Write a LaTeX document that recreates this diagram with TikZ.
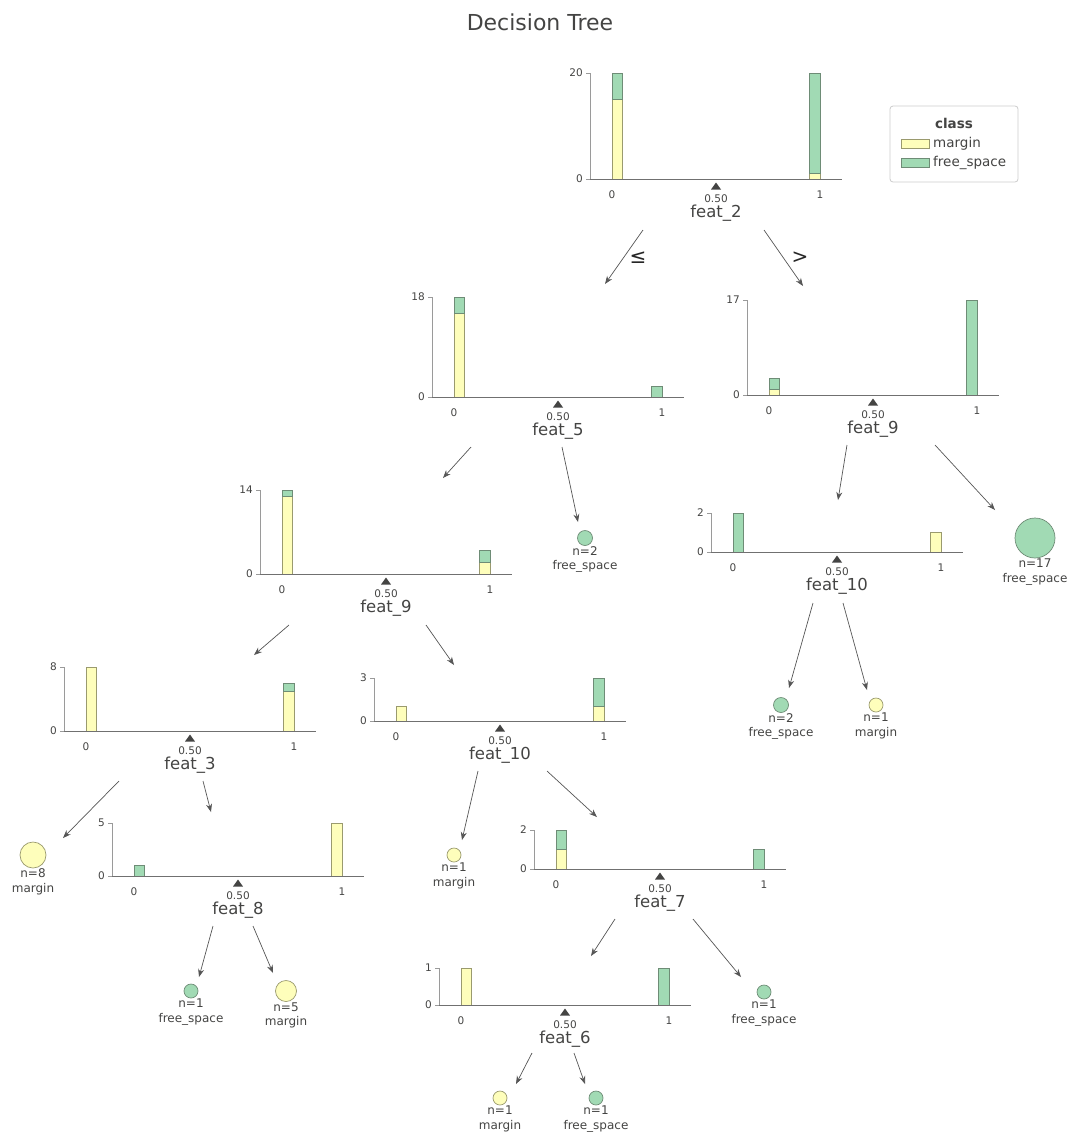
\documentclass[tikz,border=0pt]{standalone}
\usepackage{fontspec}
\setmainfont{DejaVu Sans}
\usepackage{tikz}
\usetikzlibrary{arrows.meta,positioning,calc}
\definecolor{cmarg}{HTML}{FEFEBB}
\definecolor{cfree}{HTML}{A1DAB4}
\definecolor{bmarg}{HTML}{9A9A6E}
\definecolor{bfree}{HTML}{6E8C76}
\definecolor{txtgray}{HTML}{444443}
\definecolor{axgray}{HTML}{9A9A9A}
\definecolor{axdark}{HTML}{707070}
\definecolor{arrgray}{HTML}{555555}
\definecolor{leggray}{HTML}{CCCCCC}
% split node: #1 name, #2 origin (tick 0 on the baseline), #3 axis height,
% #4 top count, #5 feature, #6 bar segments bin/from/to/style
\newcommand{\splitnode}[6]{%
  \begin{scope}[shift={#2}]
    \pgfmathsetmacro{\barunit}{#3/#4}
    \foreach \bin/\lo/\hi/\cls in {#6}
      \draw[\cls] ({\bin*197.6},{-\lo*\barunit}) rectangle ({\bin*197.6+10.4},{-\hi*\barunit});
    \draw[spine] (-22,0) -- (-22,-#3) (-26,0) -- (-22,0) (-26,-#3) -- (-22,-#3);
    \draw[base] (-22,0) -- (230,0);
    \node[tck, anchor=east] at (-29,0) {0};
    \node[tck, anchor=east] at (-29,-#3) {#4};
    \node[tck, anchor=base] at (0,19) {0};
    \node[tck, anchor=base] at (208,19) {1};
    \fill[txtgray] (104,3.5) -- (109,10.5) -- (99,10.5) -- cycle;
    \node[tck, anchor=base] at (104,23) {0.50};
    \node[featlbl, anchor=base] (#1) at (104,38) {#5};
  \end{scope}}
% leaf: #1 name, #2 centre, #3 diameter, #4 style, #5 count, #6 class
\newcommand{\leafnode}[6]{%
  \node[leaf, #4, minimum size=#3] (#1) at #2 {};
  \node[leaftxt, anchor=north] (#1-txt) at ([yshift=-0.5pt]#1.south) {n=#5\\#6};}
\tikzset{
  spine/.style={draw=axgray, line width=0.8pt},
  base/.style={draw=axdark, line width=0.9pt},
  tck/.style={font=\fontsize{10.5}{12}\selectfont, text=txtgray, inner sep=0pt},
  featlbl/.style={font=\fontsize{16.5}{18}\selectfont, text=txtgray, inner sep=0pt},
  marg/.style={fill=cmarg, draw=bmarg, line width=0.7pt},
  free/.style={fill=cfree, draw=bfree, line width=0.7pt},
  leaf/.style={circle, inner sep=0pt, line width=0.8pt},
  leaftxt/.style={font=\fontsize{12}{14.5}\selectfont, text=txtgray, inner sep=0pt, align=center},
  edge/.style={-{Stealth[length=8pt,width=6pt]}, draw=arrgray, line width=0.7pt},
  cmp/.style={font=\fontsize{20}{22}\selectfont, text=black!85, inner sep=0pt},
  ttl/.style={font=\fontsize{22}{24}\selectfont, text=txtgray, inner sep=0pt},
  legtxt/.style={font=\fontsize{13.5}{15}\selectfont, text=txtgray, inner sep=0pt},
  swatch/.style={minimum width=28pt, minimum height=9pt, inner sep=0pt},
}

\begin{document}
\begin{tikzpicture}[x=1pt,y=-1pt]
\useasboundingbox (0,0) rectangle (1080,1141);
\node[ttl] (title) at (540,22) {Decision Tree};

\splitnode{f2}{(612,179)}{106}{20}{feat\_2}{0/0/15/marg,0/15/20/free,1/0/1/marg,1/1/20/free}
\splitnode{f5}{(454,397)}{100}{18}{feat\_5}{0/0/15/marg,0/15/18/free,1/0/2/free}
\splitnode{f9r}{(769,395)}{95}{17}{feat\_9}{0/0/1/marg,0/1/3/free,1/0/17/free}
\splitnode{f9l}{(282,574)}{84}{14}{feat\_9}{0/0/13/marg,0/13/14/free,1/0/2/marg,1/2/4/free}
\splitnode{f10r}{(733,552)}{39}{2}{feat\_10}{0/0/2/free,1/0/1/marg}
\splitnode{f3}{(86,731)}{64}{8}{feat\_3}{0/0/8/marg,1/0/5/marg,1/5/6/free}
\splitnode{f10m}{(396,721)}{43}{3}{feat\_10}{0/0/1/marg,1/0/1/marg,1/1/3/free}
\splitnode{f8}{(134,876)}{53}{5}{feat\_8}{0/0/1/free,1/0/5/marg}
\splitnode{f7}{(556,869)}{39}{2}{feat\_7}{0/0/1/marg,0/1/2/free,1/0/1/free}
\splitnode{f6}{(461,1005)}{37}{1}{feat\_6}{0/0/1/marg,1/0/1/free}

\leafnode{l5}{(585,538)}{15pt}{free}{2}{free\_space}
\leafnode{l17}{(1035,538)}{40pt}{free}{17}{free\_space}
\leafnode{l10a}{(781,705)}{15pt}{free}{2}{free\_space}
\leafnode{l10b}{(876,705)}{14pt}{marg}{1}{margin}
\leafnode{l3}{(33,855)}{26pt}{marg}{8}{margin}
\leafnode{l10m}{(454,855)}{14pt}{marg}{1}{margin}
\leafnode{l8a}{(191,991)}{14pt}{free}{1}{free\_space}
\leafnode{l8b}{(286,991)}{21pt}{marg}{5}{margin}
\leafnode{l7}{(764,992)}{14pt}{free}{1}{free\_space}
\leafnode{l6a}{(500,1098)}{14pt}{marg}{1}{margin}
\leafnode{l6b}{(596,1098)}{14pt}{free}{1}{free\_space}

% arrow ends
\coordinate (f2-lo) at (643,230);  \coordinate (f5-in) at (605,284);
\coordinate (f2-hi) at (764,230);  \coordinate (f9r-in) at (803,286);
\coordinate (f5-lo) at (471,447);  \coordinate (f9l-in) at (443,478);
\coordinate (f5-hi) at (562,447);  \coordinate (l5-in) at (578,522);
\coordinate (f9r-lo) at (847,445); \coordinate (f10r-in) at (838,500);
\coordinate (f9r-hi) at (935,445); \coordinate (l17-in) at (995,510);
\coordinate (f10r-lo) at (813,603); \coordinate (l10a-in) at (789,688);
\coordinate (f10r-hi) at (843,603); \coordinate (l10b-in) at (867,690);
\coordinate (f9l-lo) at (289,625); \coordinate (f3-in) at (254,655);
\coordinate (f9l-hi) at (426,625); \coordinate (f10m-in) at (454,665);
\coordinate (f3-lo) at (119,781);  \coordinate (l3-in) at (63,838);
\coordinate (f3-hi) at (203,781);  \coordinate (f8-in) at (211,812);
\coordinate (f8-lo) at (213,926);  \coordinate (l8a-in) at (199,977);
\coordinate (f8-hi) at (253,926);  \coordinate (l8b-in) at (273,973);
\coordinate (f10m-lo) at (478,771); \coordinate (l10m-in) at (462,840);
\coordinate (f10m-hi) at (547,771); \coordinate (f7-in) at (597,817);
\coordinate (f7-lo) at (615,919);  \coordinate (f6-in) at (591,956);
\coordinate (f7-hi) at (693,919);  \coordinate (l7-in) at (741,977);
\coordinate (f6-lo) at (532,1053); \coordinate (l6a-in) at (516,1084);
\coordinate (f6-hi) at (574,1053); \coordinate (l6b-in) at (585,1084);
\foreach \a/\b in {f2-lo/f5-in, f2-hi/f9r-in, f5-lo/f9l-in, f5-hi/l5-in,
    f9r-lo/f10r-in, f9r-hi/l17-in, f10r-lo/l10a-in, f10r-hi/l10b-in,
    f9l-lo/f3-in, f9l-hi/f10m-in, f3-lo/l3-in, f3-hi/f8-in, f8-lo/l8a-in,
    f8-hi/l8b-in, f10m-lo/l10m-in, f10m-hi/f7-in, f7-lo/f6-in, f7-hi/l7-in,
    f6-lo/l6a-in, f6-hi/l6b-in}
  \draw[edge] (\a) -- (\b);
\node[cmp] (le) at (638,258) {≤};
\node[cmp] (gt) at (800,258) {>};

% legend
\draw[leggray, line width=0.8pt, fill=white, rounded corners=3pt] (890,106) rectangle (1018,182);
\node[legtxt, font=\fontsize{13.5}{15}\selectfont\bfseries] (legttl) at (954,123) {class};
\node[marg, swatch] (sw-m) at (915.5,143.5) {};
\node[legtxt, anchor=west] (lg-m) at (933,143.5) {margin};
\node[free, swatch] (sw-f) at (915.5,162.5) {};
\node[legtxt, anchor=west] (lg-f) at (933,162.5) {free\_space};
\end{tikzpicture}
\end{document}
